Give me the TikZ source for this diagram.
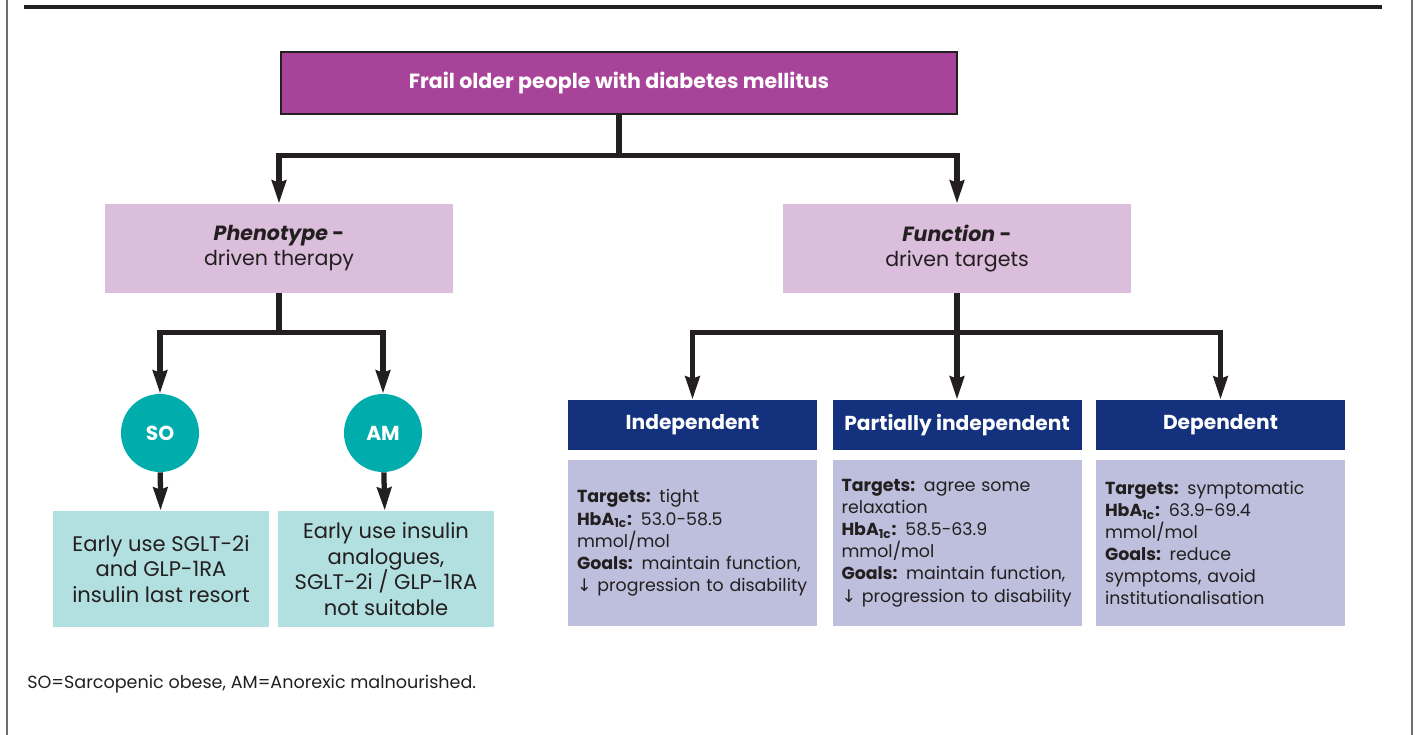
\documentclass[tikz,border=0pt]{standalone}
\usepackage{fontspec}
\setmainfont{Poppins}
\newfontfamily\arrowfont{DejaVu Sans}
\usetikzlibrary{arrows.meta,positioning}

\definecolor{frailpurple}{RGB}{168,67,154}
\definecolor{lilac}{RGB}{219,190,220}
\definecolor{teal}{RGB}{0,172,172}
\definecolor{paleteal}{RGB}{178,223,224}
\definecolor{navy}{RGB}{19,49,125}
\definecolor{lavender}{RGB}{190,191,220}
\definecolor{inkdark}{RGB}{35,31,32}
\definecolor{framegrey}{RGB}{110,110,113}

\begin{document}
\begin{tikzpicture}[
  box/.style={rectangle, text=inkdark, align=center, inner sep=0pt},
  headbox/.style={rectangle, fill=navy, text=white, minimum width=4.98cm, minimum height=1cm, font=\fontsize{11.5}{13}\selectfont\bfseries},
  infobox/.style={rectangle, fill=lavender, text=inkdark, text width=4.62cm, inner xsep=0.18cm, inner ysep=0pt, minimum height=3.32cm, align=left, font=\fontsize{9.9}{12.6}\selectfont},
  groupbox/.style={box, fill=paleteal, minimum width=4.32cm, minimum height=2.32cm, font=\fontsize{12}{14.6}\selectfont},
  tag/.style={circle, fill=teal, text=white, minimum size=1.56cm, inner sep=0pt, font=\fontsize{11.5}{13}\selectfont\bfseries},
  arrow/.style={-{Stealth[length=0.46cm, width=0.28cm, inset=0.04cm]}, line width=3pt, draw=inkdark}
]
  \useasboundingbox (0,0) rectangle (28.32,-14.7);

  % frame
  \draw[framegrey, line width=1.1pt] (0.14,0) -- (0.14,-14.7);
  \draw[framegrey, line width=1.1pt] (28.24,0) -- (28.24,-14.7);
  \draw[inkdark, line width=2.2pt] (0.48,-0.14) -- (27.64,-0.14);

  \node[box, fill=frailpurple, draw=inkdark, line width=0.8pt, text=white, minimum width=13.52cm, minimum height=1.24cm, font=\fontsize{11.7}{13}\selectfont\bfseries] (top) at (12.38,-1.66) {Frail older people with diabetes mellitus};

  \node[box, fill=lilac, minimum width=6.96cm, minimum height=1.78cm, font=\fontsize{11.7}{14.2}\selectfont] (pheno) at (5.58,-4.97) {\textbf{\textit{Phenotype} -}\\driven therapy};
  \node[box, fill=lilac, minimum width=6.96cm, minimum height=1.78cm, font=\fontsize{11.7}{14.2}\selectfont] (func) at (19.14,-4.97) {\textbf{\textit{Function} -}\\driven targets};

  \node[tag] (so) at (3.2,-8.66) {SO};
  \node[tag] (am) at (7.66,-8.66) {AM};

  \node[groupbox] (sobox) at (3.22,-11.38) {Early use SGLT-2i\\and GLP-1RA\\insulin last resort};
  \node[groupbox] (ambox) at (7.72,-11.38) {Early use insulin\\analogues,\\SGLT-2i / GLP-1RA\\not suitable};

  \node[headbox] (indep) at (13.85,-8.5) {Independent};
  \node[headbox] (part) at (19.14,-8.5) {Partially independent};
  \node[headbox] (dep) at (24.41,-8.5) {Dependent};

  \node[infobox] (indepinfo) at (13.85,-10.86) {\textbf{Targets:} tight\\
    \textbf{HbA\textsubscript{1c}:} 53.0-58.5\\
    mmol/mol\\
    \textbf{Goals:} maintain function,\\
    {\arrowfont↓} progression to disability};
  \node[infobox] (partinfo) at (19.14,-10.86) {\textbf{Targets:} agree some\\
    relaxation\\
    \textbf{HbA\textsubscript{1c}:} 58.5-63.9\\
    mmol/mol\\
    \textbf{Goals:} maintain function,\\
    {\arrowfont↓} progression to disability};
  \node[infobox] (depinfo) at (24.41,-10.86) {\textbf{Targets:} symptomatic\\
    \textbf{HbA\textsubscript{1c}:} 63.9-69.4\\
    mmol/mol\\
    \textbf{Goals:} reduce\\
    symptoms, avoid\\
    institutionalisation};

  \node[anchor=west, inner sep=0pt, text=inkdark, font=\fontsize{10}{12}\selectfont] (note) at (0.54,-13.68) {SO=Sarcopenic obese, AM=Anorexic malnourished.};

  \draw[arrow] (top.south) -- ++(0,-0.82) -| (pheno.north);
  \draw[arrow] (top.south) -- ++(0,-0.82) -| (func.north);

  \draw[arrow] (pheno.south) -- ++(0,-0.78) -| (so.north);
  \draw[arrow] (pheno.south) -- ++(0,-0.78) -| (am.north);
  \draw[arrow] (so) -- (sobox);
  \draw[arrow] (am) -- (ambox);

  \draw[arrow] (func.south) -- ++(0,-0.78) -| (indep.north);
  \draw[arrow] (func.south) -- (part.north);
  \draw[arrow] (func.south) -- ++(0,-0.78) -| (dep.north);
\end{tikzpicture}
\end{document}
